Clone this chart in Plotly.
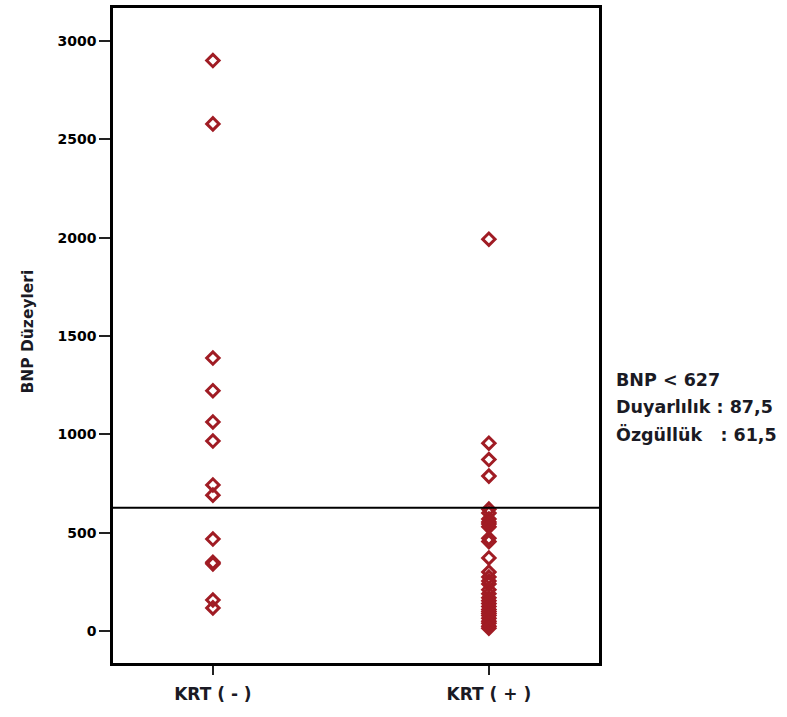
import plotly.graph_objects as go

categories = ["KRT ( - )", "KRT ( + )"]
krt_neg = [2900, 2578, 1388, 1222, 1063, 966, 743, 691, 468, 350, 342, 158, 118]
krt_pos = [1992, 955, 872, 788, 620, 600, 570, 555, 545, 530, 472, 455, 372,
           300, 275, 255, 240, 210, 190, 170, 155, 140, 125, 110, 100, 90,
           80, 65, 50, 40, 25, 15]
cutoff = 627
y_ticks = [0, 500, 1000, 1500, 2000, 2500, 3000]
info_lines = ["BNP < 627", "Duyarlılık : 87,5", "Özgüllük   : 61,5"]

red = "#a01c24"
txt = "#1a1a24"
fig = go.Figure()
for cat, vals in zip(categories, [krt_neg, krt_pos]):
    fig.add_trace(go.Scatter(
        x=[cat] * len(vals), y=vals, mode="markers",
        marker=dict(symbol="diamond-open", size=9.5, color=red,
                    line=dict(width=3, color=red)),
        showlegend=False, hoverinfo="y"))

fig.add_shape(type="line", xref="paper", x0=0, x1=1, yref="y", y0=cutoff, y1=cutoff,
              line=dict(color="black", width=2))

for i, t in enumerate(info_lines):
    fig.add_annotation(text=t, xref="paper", x=1, xanchor="left", xshift=15,
                       yref="y", y=1275 - i * 138, yanchor="middle", showarrow=False,
                       align="left",
                       font=dict(family="DejaVu Sans", size=17.5, color=txt, weight="bold"))

fig.add_annotation(text="BNP Düzeyleri", xref="paper", x=0, xanchor="center", xshift=-85,
                   yref="paper", y=0.506, yanchor="middle", textangle=-90, showarrow=False,
                   font=dict(family="DejaVu Sans", size=15.5, color=txt, weight="bold"))

fig.update_layout(
    width=787, height=717,
    margin=dict(l=113, r=188, t=5, b=54),
    plot_bgcolor="white", paper_bgcolor="white",
    xaxis=dict(type="category", range=[-0.362, 1.399], showgrid=False, zeroline=False,
               showline=True, linecolor="black", linewidth=2.5, mirror=True,
               ticks="outside", ticklen=9, tickwidth=2, tickcolor="#222",
               ticklabelstandoff=5,
               tickfont=dict(family="DejaVu Sans", size=17, color=txt, weight="bold")),
    yaxis=dict(range=[-162, 3167], tickvals=y_ticks, showgrid=False, zeroline=False,
               showline=True, linecolor="black", linewidth=2.5, mirror=True,
               ticks="outside", ticklen=11, tickwidth=2, tickcolor="#222",
               tickfont=dict(family="DejaVu Sans", size=14, color="black", weight="bold")),
)

fig.write_html("out.html")
